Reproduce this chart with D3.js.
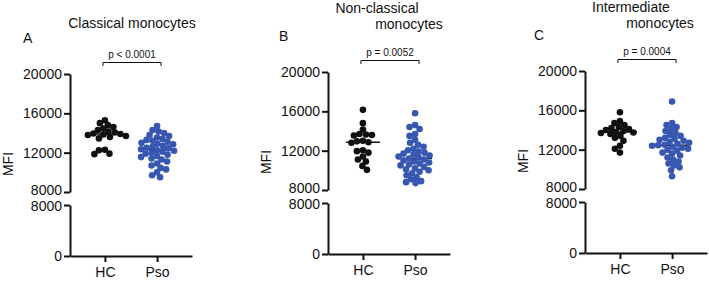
<!DOCTYPE html>
<html>
<head>
<meta charset="utf-8">
<script src="https://cdn.jsdelivr.net/npm/d3@7"></script>
<style>
  body { margin: 0; background: #fff; }
  svg { display: block; font-family: "Liberation Sans", Arial, sans-serif; }
</style>
</head>
<body>
<div id="chart"></div>
<script>
// SVG area
var svgWidth = 709;
var svgHeight = 282;

// Data (MFI values)
var groups = ["HC", "Pso"];
var upperTicks = [8000, 12000, 16000, 20000];
var lowerTicks = [0, 8000];

var panelLetters = ["A", "B", "C"];
var panelTitles = [["Classical monocytes"], ["Non-classical", "monocytes"], ["Intermediate", "monocytes"]];
var pValues = ["p < 0.0001", "p = 0.0052", "p = 0.0004"];

var hcA = [15300, 15000, 14800, 14600, 14450, 14300, 14150, 14050, 13950, 13900, 13850, 13800, 13700, 13600, 13450, 12300, 12250, 11900, 11850];
var psoA = [14700, 14300, 14150, 14000, 13800, 13700, 13550, 13400, 13300, 13200, 13100, 13000, 12900, 12850, 12700, 12600, 12500, 12450, 12350, 12250, 12200, 12100, 12000, 11900, 11800, 11650, 11550, 11400, 11300, 11100, 10900, 10700, 10450, 10300, 10000, 9700, 9500];

var hcB = [16150, 14800, 14150, 13700, 13650, 13600, 13550, 13000, 12950, 12850, 12800, 12050, 11950, 11800, 11400, 11100, 10900, 10450, 10050];
var psoB = [15800, 14600, 14400, 14200, 13700, 13500, 13100, 12800, 12600, 12400, 12200, 12050, 11900, 11800, 11700, 11600, 11500, 11400, 11300, 11200, 11100, 11000, 10900, 10800, 10700, 10600, 10500, 10350, 10200, 10100, 10000, 9850, 9700, 9500, 9300, 9100, 8900, 8800, 8700];

var hcC = [15800, 14900, 14700, 14500, 14300, 14200, 14100, 14000, 13900, 13800, 13750, 13700, 13600, 13400, 13200, 12900, 12400, 12100, 11700];
var psoC = [16900, 14700, 14500, 14300, 14100, 13900, 13700, 13500, 13400, 13200, 13100, 13000, 12900, 12800, 12700, 12600, 12500, 12450, 12400, 12300, 12200, 12100, 12000, 11900, 11700, 11600, 11400, 11200, 11000, 10800, 10600, 10400, 10200, 9900, 9300];

var panelData = [[hcA, psoA], [hcB, psoB], [hcC, psoC]];
var colors = ["#111111", "#3757b0"];

// layout of each panel (pixels)
var layouts = [
  { x0: 70,  dy: 0,  titleX: [132], titleY: [28], letterX: 23 },
  { x0: 328, dy: -2, titleX: [377, 409], titleY: [13, 29], letterX: 279 },
  { x0: 585, dy: -3, titleX: [631, 660], titleY: [12, 28], letterX: 534 }
];
var dotR = 3.3;

var svg = d3.select("#chart")
  .append("svg")
  .attr("width", svgWidth)
  .attr("height", svgHeight);

// simple beeswarm so dots do not sit on top of each other
function swarm(values, yScale, cx, r) {
  var placed = [];
  values.slice().sort((a, b) => b - a).forEach(function(v) {
    var y = yScale(v);
    for (var k = 0; ; k++) {
      var off = (k % 2 === 0 ? 1 : -1) * Math.ceil(k / 2) * 0.5;
      var x = cx + off;
      var ok = placed.every(p => Math.hypot(p.x - x, p.y - y) >= r * 1.7);
      if (ok) { placed.push({ x: x, y: y, v: v }); break; }
    }
  });
  return placed;
}

layouts.forEach(function(L, i) {
  var g = svg.append("g")
    .attr("transform", `translate(${L.x0}, ${L.dy})`);

  var yUpper = d3.scaleLinear().domain([8000, 20000]).range([192, 74]);
  var yLower = d3.scaleLinear().domain([0, 8000]).range([256, 205]);
  var xScale = d3.scalePoint().domain(groups).range([0, 122]).padding(0.67);

  // y axis, upper segment
  var upAxis = g.append("g")
    .call(d3.axisLeft(yUpper).tickValues(upperTicks).tickSize(6).tickSizeOuter(0).tickFormat(d3.format("d")));
  // y axis, lower segment
  var loAxis = g.append("g")
    .call(d3.axisLeft(yLower).tickValues(lowerTicks).tickSize(6).tickSizeOuter(0).tickFormat(d3.format("d")));
  // x axis
  var xAxis = g.append("g")
    .attr("transform", "translate(0, 256)")
    .call(d3.axisBottom(xScale).tickSize(6).tickSizeOuter(0));

  [upAxis, loAxis, xAxis].forEach(function(a) {
    a.select(".domain").attr("stroke", "#111").attr("stroke-width", 2);
    a.selectAll(".tick line").attr("stroke", "#111").attr("stroke-width", 2);
    a.selectAll(".tick text")
      .attr("fill", "#111")
      .style("font-size", "14px")
      .style("font-family", "Liberation Sans, Arial, sans-serif");
  });
  upAxis.selectAll(".tick text").attr("x", -8);
  loAxis.selectAll(".tick text").attr("x", -8);
  // keep the two 8000 labels apart at the break
  upAxis.selectAll(".tick text").filter(d => d === 8000).attr("dy", "0.2em");
  loAxis.selectAll(".tick text").filter(d => d === 8000).attr("dy", "0.42em");
  xAxis.selectAll(".tick text").attr("y", 11);

  // median lines (under the dots)
  panelData[i].forEach(function(vals, j) {
    var m = d3.median(vals);
    g.append("line")
      .attr("x1", xScale(groups[j]) - 17)
      .attr("x2", xScale(groups[j]) + 17)
      .attr("y1", yUpper(m))
      .attr("y2", yUpper(m))
      .attr("stroke", "#111")
      .attr("stroke-width", 1.5);
  });

  // dots
  panelData[i].forEach(function(vals, j) {
    var pts = swarm(vals, yUpper, xScale(groups[j]), dotR);
    g.append("g").selectAll("circle")
      .data(pts)
      .enter()
      .append("circle")
      .attr("cx", d => d.x)
      .attr("cy", d => d.y)
      .attr("r", dotR)
      .attr("fill", colors[j]);
  });

  // significance bracket
  var bx1 = xScale("HC") - 2, bx2 = xScale("Pso") + 4;
  g.append("path")
    .attr("d", `M${bx1},66 V62.5 H${bx2} V66`)
    .attr("fill", "none")
    .attr("stroke", "#111")
    .attr("stroke-width", 1);
  g.append("text")
    .attr("x", (bx1 + bx2) / 2)
    .attr("y", 58)
    .attr("text-anchor", "middle")
    .style("font-size", "10px")
    .attr("fill", "#111")
    .text(pValues[i]);

  // MFI label
  g.append("text")
    .attr("transform", "rotate(-90)")
    .attr("x", -164)
    .attr("y", -57)
    .attr("text-anchor", "middle")
    .style("font-size", "14px")
    .attr("fill", "#111")
    .text("MFI");

  // panel letter
  svg.append("text")
    .attr("x", L.letterX)
    .attr("y", 43 + L.dy)
    .style("font-size", "14px")
    .attr("fill", "#111")
    .text(panelLetters[i]);

  // title
  panelTitles[i].forEach(function(t, k) {
    svg.append("text")
      .attr("x", L.titleX[k])
      .attr("y", L.titleY[k])
      .attr("text-anchor", "middle")
      .style("font-size", "14px")
      .attr("fill", "#111")
      .text(t);
  });
});
</script>
</body>
</html>
